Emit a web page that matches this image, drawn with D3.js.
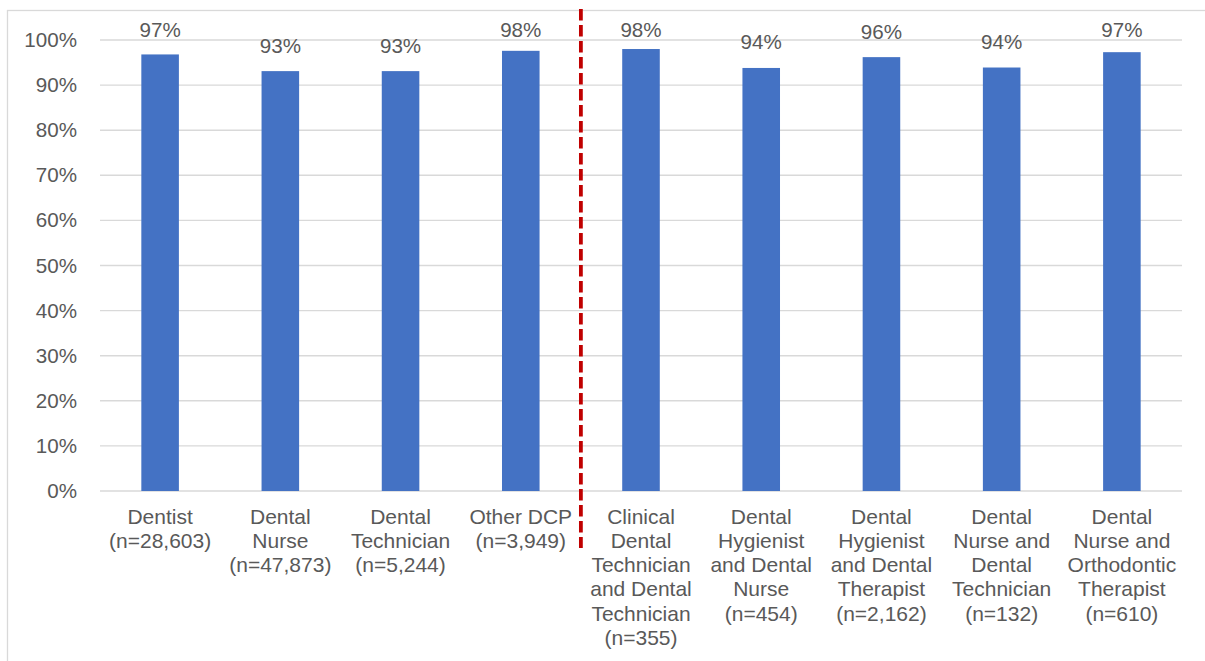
<!DOCTYPE html>
<html>
<head>
<meta charset="utf-8">
<script src="https://cdn.jsdelivr.net/npm/d3@7"></script>
<style>
  html, body { margin: 0; padding: 0; background: #ffffff; }
  svg { display: block; }
  text { font-family: "Liberation Sans", Arial, sans-serif; fill: #595959; }
</style>
</head>
<body>
<svg id="chart" width="1205" height="661"></svg>
<script>
// Professions on the register
const categories = [
  "Dentist", "Dental Nurse", "Dental Technician", "Other DCP",
  "Clinical Dental Technician and Dental Technician",
  "Dental Hygienist and Dental Nurse", "Dental Hygienist and Dental Therapist",
  "Dental Nurse and Dental Technician", "Dental Nurse and Orthodontic Therapist"
];

// Multi-line tick labels for each profession
const tickLabels = [
  ["Dentist", "(n=28,603)"],
  ["Dental", "Nurse", "(n=47,873)"],
  ["Dental", "Technician", "(n=5,244)"],
  ["Other DCP", "(n=3,949)"],
  ["Clinical", "Dental", "Technician", "and Dental", "Technician", "(n=355)"],
  ["Dental", "Hygienist", "and Dental", "Nurse", "(n=454)"],
  ["Dental", "Hygienist", "and Dental", "Therapist", "(n=2,162)"],
  ["Dental", "Nurse and", "Dental", "Technician", "(n=132)"],
  ["Dental", "Nurse and", "Orthodontic", "Therapist", "(n=610)"]
];

// Share of each group (proportion)
const values = [0.968, 0.931, 0.931, 0.976, 0.980, 0.938, 0.962, 0.939, 0.973];

// Y axis ticks
const yTicks = [0, 0.1, 0.2, 0.3, 0.4, 0.5, 0.6, 0.7, 0.8, 0.9, 1.0];

// Divider sits between single-registrant and dual-registrant groups
const dividerAfter = "Other DCP";

const svg = d3.select("#chart");

// Outer frame
svg.append("rect")
  .attr("x", 7.5).attr("y", 10.5)
  .attr("width", 1220).attr("height", 680)
  .attr("fill", "none")
  .attr("stroke", "#D9D9D9")
  .attr("stroke-width", 1.3);

const plot = { left: 100, right: 1182, top: 40, bottom: 491 };

const x = d3.scaleBand()
  .domain(categories)
  .range([plot.left, plot.right]);

const band = x.bandwidth();
const cx = d => x(d) + band / 2;

const y = d3.scaleLinear().domain([0, 1]).range([plot.bottom, plot.top]);

// Gridlines
svg.append("g")
  .selectAll("line")
  .data(yTicks)
  .join("line")
  .attr("x1", plot.left).attr("x2", plot.right)
  .attr("y1", d => y(d)).attr("y2", d => y(d))
  .attr("stroke", "#D9D9D9")
  .attr("stroke-width", 1.4);

// Y axis labels
const yAxis = d3.axisLeft(y)
  .tickValues(yTicks)
  .tickFormat(d3.format(".0%"))
  .tickSize(0)
  .tickPadding(0);

const yg = svg.append("g")
  .attr("transform", `translate(${plot.left - 23},0)`)
  .call(yAxis);
yg.select(".domain").remove();
yg.selectAll("text")
  .attr("font-size", "20.6px")
  .attr("fill", "#595959")
  .attr("font-family", "'Liberation Sans', Arial, sans-serif");

// Bars (gap width 220%)
const bw = band / 3.2;
svg.append("g")
  .selectAll("rect")
  .data(categories)
  .join("rect")
  .attr("x", d => cx(d) - bw / 2)
  .attr("width", bw)
  .attr("y", (d, i) => y(values[i]))
  .attr("height", (d, i) => y(0) - y(values[i]))
  .attr("fill", "#4472C4");

// Value labels, kept inside the plot area
const fmt = d3.format(".0%");
svg.append("g")
  .selectAll("text")
  .data(categories)
  .join("text")
  .attr("x", d => cx(d))
  .attr("y", (d, i) => Math.max(y(values[i]) - 18.5, 37))
  .attr("text-anchor", "middle")
  .attr("font-size", "20.6px")
  .text((d, i) => fmt(values[i]));

// Category labels
const catG = svg.append("g")
  .selectAll("text")
  .data(categories)
  .join("text")
  .attr("x", d => cx(d))
  .attr("y", 523.5)
  .attr("text-anchor", "middle")
  .attr("font-size", "21px");

catG.selectAll("tspan")
  .data((d, i) => tickLabels[i].map(t => ({ t, c: d })))
  .join("tspan")
  .attr("x", d => cx(d.c))
  .attr("dy", (d, j) => j === 0 ? 0 : 24.3)
  .text(d => d.t);

// Red dashed divider
const divX = x(dividerAfter) + band;
svg.append("line")
  .attr("x1", divX).attr("x2", divX)
  .attr("y1", 9).attr("y2", 548)
  .attr("stroke", "#C00000")
  .attr("stroke-width", 3.8)
  .attr("stroke-dasharray", "11.5,4.5");
</script>
</body>
</html>
